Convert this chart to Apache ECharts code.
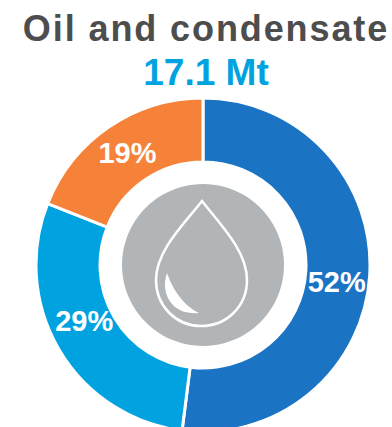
<!DOCTYPE html>
<html>
<head>
<meta charset="utf-8">
<style>
  html, body { margin: 0; padding: 0; background: #fff; }
  #chart { width: 392px; height: 427px; }
</style>
<script src="https://cdn.jsdelivr.net/npm/echarts@6/dist/echarts.min.js"></script>
</head>
<body>
<div id="chart"></div>
<script>
const categories = ['Segment A', 'Segment B', 'Segment C'];
const shares = [52, 29, 19];
const sliceColors = ['#1a74c3', '#00a3e0', '#f6823a'];
const labelOffsets = [[-4, 8], [0, -14], [2, 2]];
const heading = 'Oil and condensate';
const total = '17.1 Mt';

const FONT = '"Liberation Sans", Arial, sans-serif';
const dropOutline = 'M202 201 C186 222 156 250 156 280 C156 306 176 326 201 326 C227 326 247 306 247 280 C247 250 218 222 202 201 Z';
const dropGlint = 'M167 273 C163 285 165 296 172 304 C178 311 188 314 199 313 C191 309 184 303 179 296 C173 288 170 281 167 273 Z';

// The droplet icon is made of two custom shapes registered with the library.
echarts.graphic.registerShape('dropOutline', echarts.graphic.extendPath(dropOutline));
echarts.graphic.registerShape('dropGlint', echarts.graphic.extendPath(dropGlint));

const chart = echarts.init(document.getElementById('chart'), null, { renderer: 'svg' });
chart.setOption({
  animation: false,
  title: [
    { text: heading, left: 201, top: 5, textAlign: 'center',
      textStyle: { fontFamily: FONT, fontSize: 36, fontWeight: 'bold', color: '#4d4d4d' } },
    { text: total, left: 206, top: 49, textAlign: 'center',
      textStyle: { fontFamily: FONT, fontSize: 37, fontWeight: 'bold', color: '#00a3e0' } }
  ],
  series: [{
    type: 'pie',
    center: [203, 265],
    radius: [103, 167],
    startAngle: 90,
    clockwise: true,
    silent: true,
    itemStyle: { borderColor: '#fff', borderWidth: 3 },
    label: {
      position: 'inside',
      formatter: '{c}%',
      color: '#fff',
      fontFamily: FONT,
      fontSize: 29,
      fontWeight: 'bold'
    },
    labelLine: { show: false },
    data: categories.map((name, i) => ({
      name,
      value: shares[i],
      itemStyle: { color: sliceColors[i] },
      label: { offset: labelOffsets[i] }
    }))
  }],
  graphic: [
    { type: 'circle', silent: true, shape: { cx: 203, cy: 265, r: 81 }, style: { fill: '#b1b5b8' } },
    { type: 'dropOutline', silent: true, style: { fill: 'none', stroke: '#fff', lineWidth: 2.5 } },
    { type: 'dropGlint', silent: true, style: { fill: '#fff' } }
  ]
});

// The heading is set with slightly open tracking, and the total is nudged to the left.
document.querySelectorAll('#chart text').forEach(node => {
  if (node.textContent === heading) node.style.letterSpacing = '1.9px';
  if (node.textContent === total) node.setAttribute('dx', '-5');
});
</script>
</body>
</html>
